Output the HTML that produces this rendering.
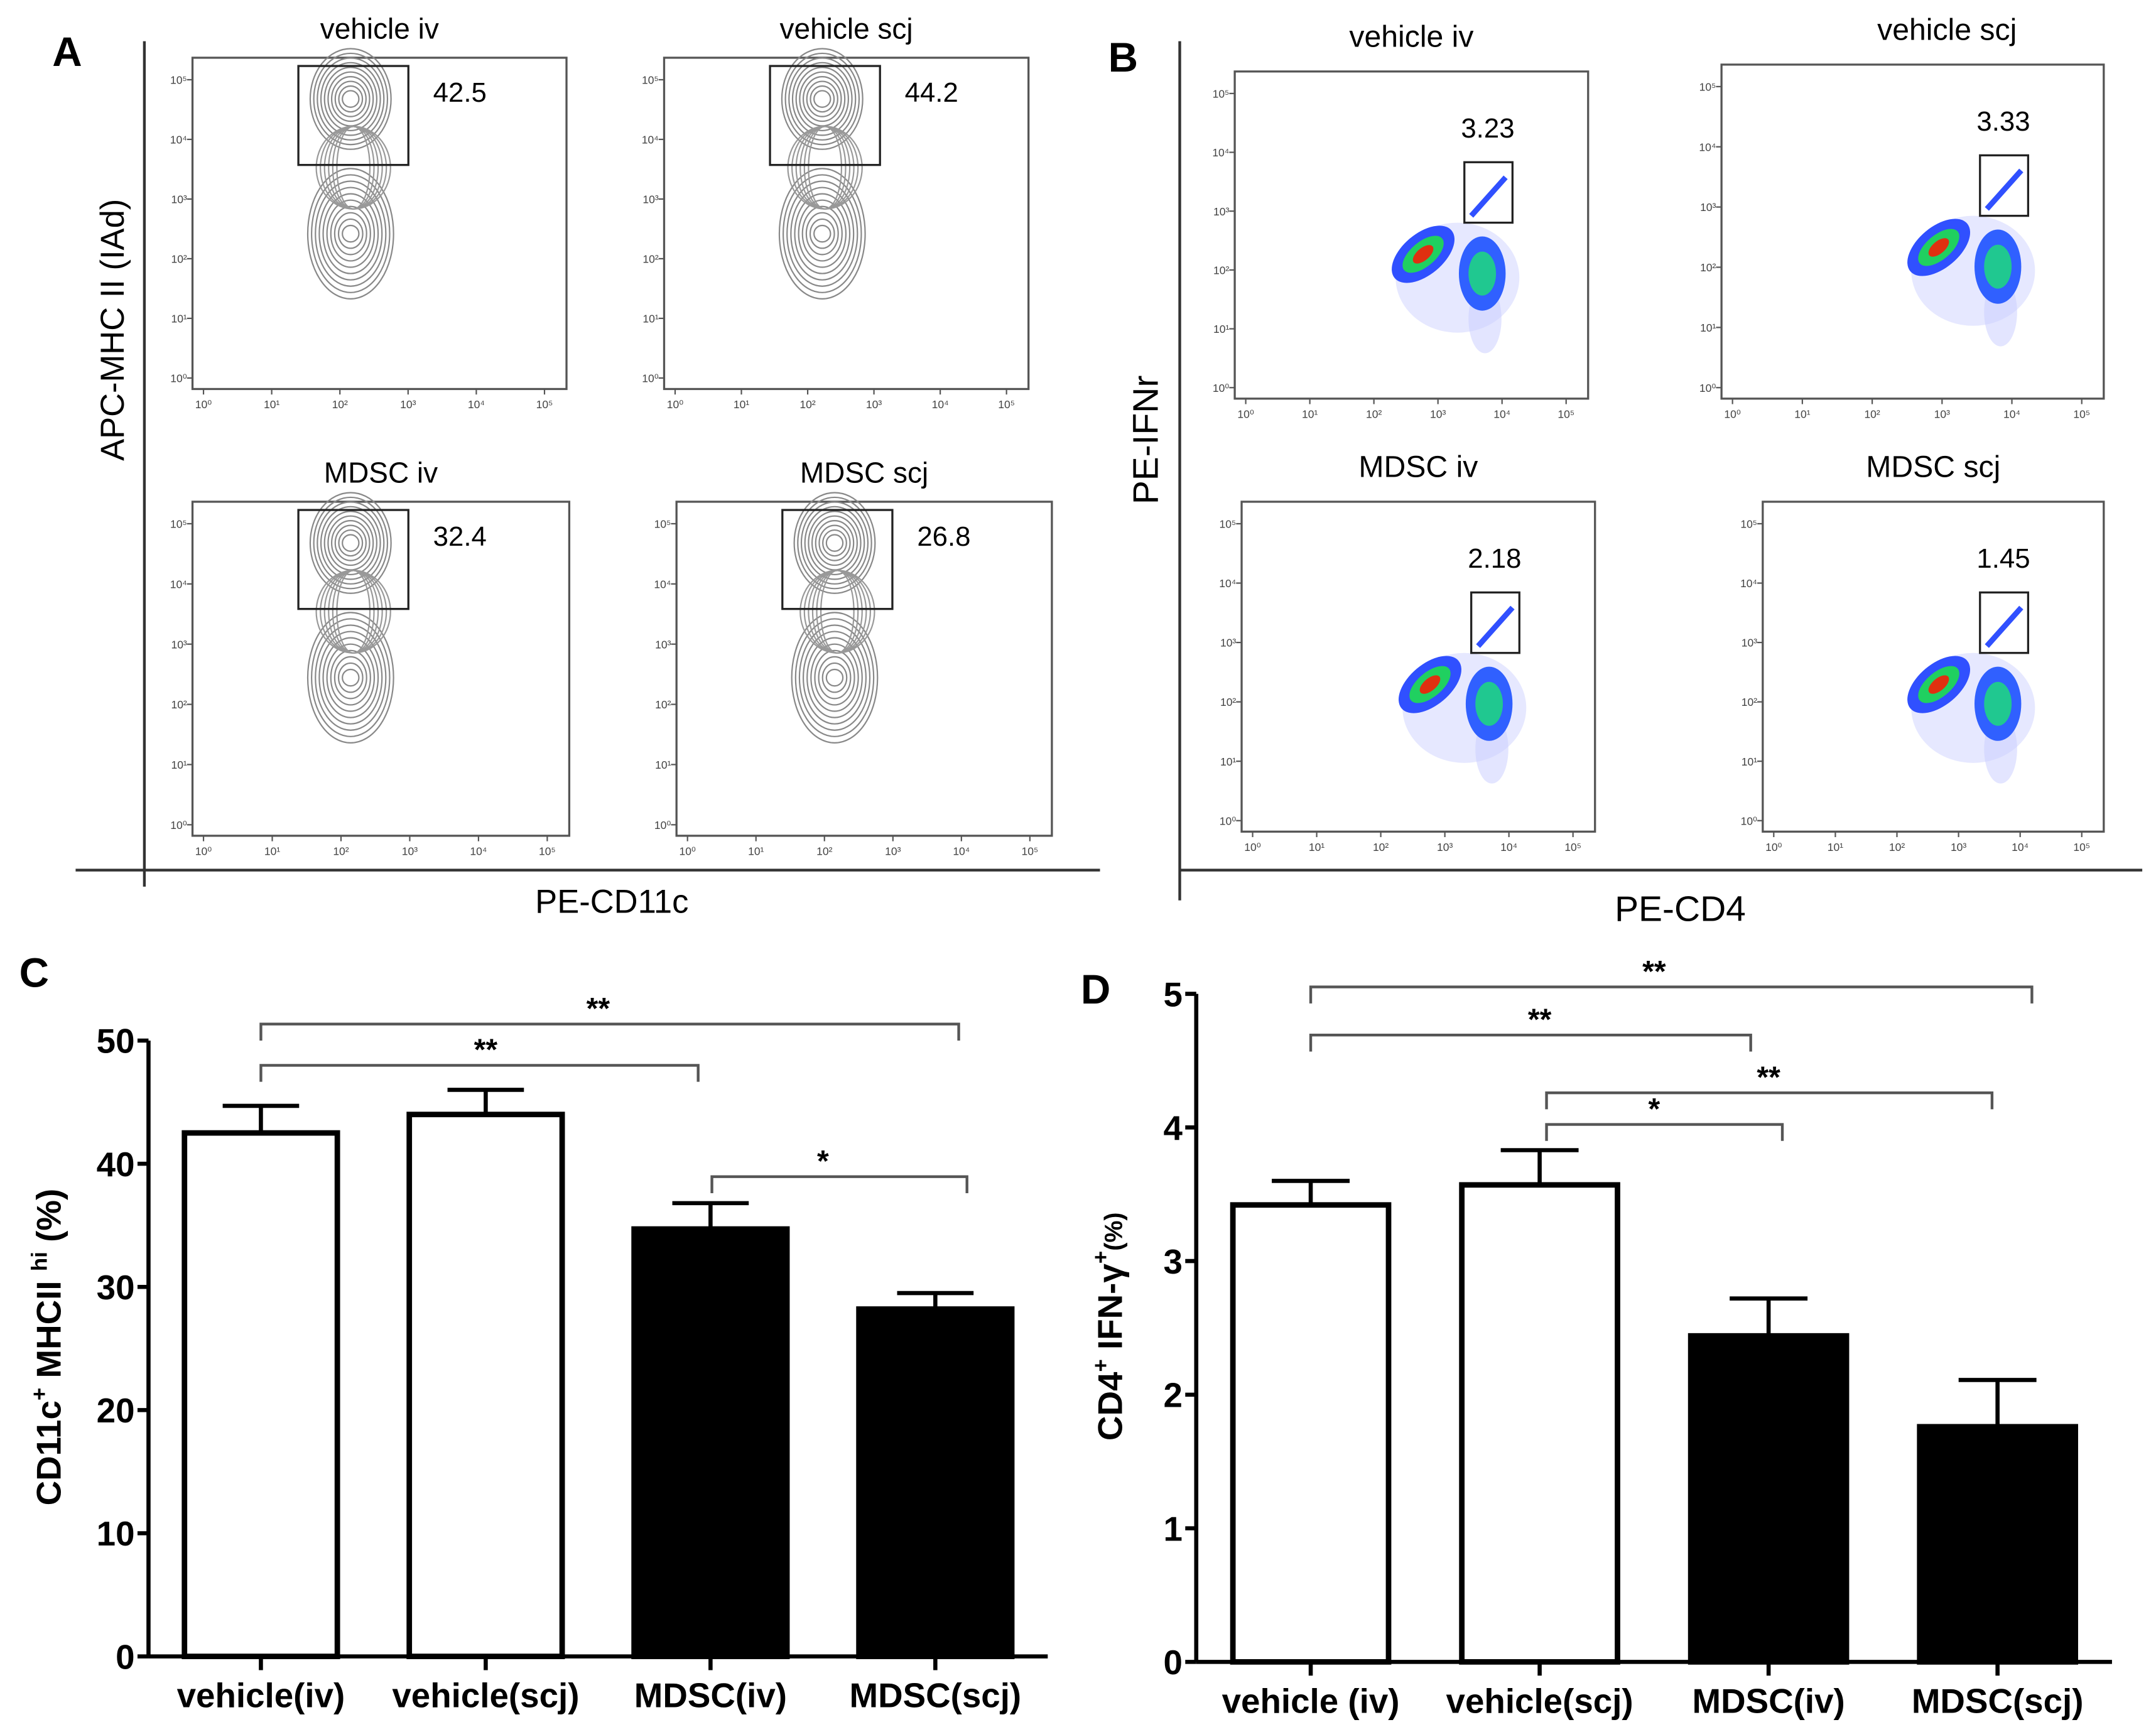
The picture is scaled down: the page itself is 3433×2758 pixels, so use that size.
<!DOCTYPE html>
<html><head><meta charset="utf-8"><style>
html,body{margin:0;padding:0;background:#fff;}
svg{display:block;font-family:"Liberation Sans",sans-serif;}
</style></head><body>
<svg id="fig" width="3433" height="2758" viewBox="0 0 1568 1260" preserveAspectRatio="none" xmlns="http://www.w3.org/2000/svg">
<rect width="1568" height="1260" fill="#fff"/>
<g id="panelA">
<text x="38" y="48" font-size="30" font-weight="bold">A</text>
<line x1="105" y1="30" x2="105" y2="645" stroke="#333" stroke-width="2"/>
<line x1="55" y1="633" x2="800" y2="633" stroke="#333" stroke-width="2"/>
<text x="445" y="664" font-size="24" text-anchor="middle">PE-CD11c</text>
<text transform="translate(90,240) rotate(-90)" font-size="24" text-anchor="middle">APC-MHC II (IAd)</text>
</g>
<g id="panelB">
<text x="806" y="52" font-size="30" font-weight="bold">B</text>
<line x1="858" y1="30" x2="858" y2="655" stroke="#333" stroke-width="2"/>
<line x1="858" y1="633" x2="1558" y2="633" stroke="#333" stroke-width="2"/>
<text x="1222" y="670" font-size="26" text-anchor="middle">PE-CD4</text>
<text transform="translate(842,320) rotate(-90)" font-size="26" text-anchor="middle">PE-IFNr</text>
</g>
<g id="panelC">
<text x="14" y="718" font-size="30" font-weight="bold">C</text>
<text transform="translate(44,980) rotate(-90)" font-size="25" font-weight="bold" text-anchor="middle">CD11c<tspan dy="-10" font-size="16">+</tspan><tspan dy="10"> MHCII </tspan><tspan dy="-10" font-size="16">hi</tspan><tspan dy="10"> (%)</tspan></text>
</g>
<g id="panelD">
<text x="786" y="730" font-size="30" font-weight="bold">D</text>
<text transform="translate(816,965) rotate(-90)" font-size="25" font-weight="bold" text-anchor="middle">CD4<tspan dy="-10" font-size="16">+</tspan><tspan dy="10"> IFN-γ</tspan><tspan dy="-10" font-size="16">+</tspan><tspan dy="10" font-size="18">(%)</tspan></text>
</g>
</svg>
<script>
// ---- Chart C data ----
const catsC = ["vehicle(iv)","vehicle(scj)","MDSC(iv)","MDSC(scj)"];
const valsC = [42.5, 44.0, 34.7, 28.2];
const errC = [2.2, 2.0, 2.1, 1.3];
const ticksC = [0,10,20,30,40,50];
const fillsC = ["#fff","#fff","#000","#000"];
// ---- Chart D data ----
const catsD = ["vehicle (iv)","vehicle(scj)","MDSC(iv)","MDSC(scj)"];
const valsD = [3.42, 3.57, 2.44, 1.76];
const errD = [0.18, 0.26, 0.28, 0.35];
const ticksD = [0,1,2,3,4,5];
const fillsD = ["#fff","#fff","#000","#000"];
// ---- Flow data ----
const flowTitlesA = ["vehicle iv","vehicle scj","MDSC iv","MDSC scj"];
const flowValsA = ["42.5","44.2","32.4","26.8"];
const flowTitlesB = ["vehicle iv","vehicle scj","MDSC iv","MDSC scj"];
const flowValsB = ["3.23","3.33","2.18","1.45"];

const NS="http://www.w3.org/2000/svg";
function mk(tag,attrs,parent,text){const e=document.createElementNS(NS,tag);for(const k in attrs)e.setAttribute(k,attrs[k]);if(text!==undefined)e.textContent=text;parent.appendChild(e);return e;}

function barChart(g,cfg){
  const y=v=>cfg.y0-(v-cfg.min)/(cfg.max-cfg.min)*(cfg.y0-cfg.y1);
  const n=cfg.cats.length, step=(cfg.xEnd-cfg.x0)/n;
  const xc=i=>cfg.x0+step*(i+0.5);
  const ax=mk('line',{x1:cfg.x0,y1:y(cfg.max),x2:cfg.x0,y2:cfg.y0,stroke:'#000','stroke-width':3},g);
  
  
  const bx=mk('line',{x1:cfg.x0,y1:cfg.y0,x2:cfg.xEnd,y2:cfg.y0,stroke:'#000','stroke-width':3},g);
  
  
  cfg.ticks.forEach(t=>{
    const tl=mk('line',{x1:cfg.x0-8,y1:y(t),x2:cfg.x0,y2:y(t),stroke:'#000','stroke-width':3},g);
    
    
    const tx=mk('text',{x:cfg.x0-10,y:y(t)+9,'font-size':25,'font-weight':'bold','text-anchor':'end'},g,String(t));
    
    
  });
  cfg.cats.forEach((c,i)=>{
    const cx=xc(i), w=step*0.68, top=y(cfg.vals[i]), et=y(cfg.vals[i]+cfg.err[i]);
    const eb=mk('line',{x1:cx,y1:top,x2:cx,y2:et,stroke:'#000','stroke-width':3},g);
    
    
    const ec=mk('line',{x1:cx-w*0.25,y1:et,x2:cx+w*0.25,y2:et,stroke:'#000','stroke-width':3},g);
    
    
    const r=mk('rect',{x:cx-w/2,y:top,width:w,height:cfg.y0-top,fill:cfg.fills[i],stroke:'#000','stroke-width':4},g);
    
    
    const xt=mk('line',{x1:cx,y1:cfg.y0,x2:cx,y2:cfg.y0+10,stroke:'#000','stroke-width':3},g);
    
    
    const lb=mk('text',{x:cx,y:cfg.y0+37,'font-size':25,'font-weight':'bold','text-anchor':'middle'},g,c);
    
    
  });
  cfg.brackets.forEach(b=>{
    const p=mk('path',{d:`M${xc(b[0])+b[4]},${b[2]+12} V${b[2]} H${xc(b[1])+b[5]} V${b[2]+12}`,fill:'none',stroke:'#555','stroke-width':2},g);
    
    
    const s=mk('text',{x:(xc(b[0])+xc(b[1]))/2,y:b[2]-4,'font-size':22,'font-weight':'bold','text-anchor':'middle'},g,b[3]);
    
    
  });
}
barChart(document.getElementById('panelC'),{x0:108,xEnd:762,y0:1205,y1:757,min:0,max:50,cats:catsC,vals:valsC,err:errC,ticks:ticksC,fills:fillsC,
  brackets:[[0,3,745,'**',0,17],[0,2,775,'**',0,-9],[2,3,856,'*',1,23]]});
barChart(document.getElementById('panelD'),{x0:870,xEnd:1536,y0:1209,y1:723,min:0,max:5,cats:catsD,vals:valsD,err:errD,ticks:ticksD,fills:fillsD,
  brackets:[[0,3,718,'**',0,25],[0,2,753,'**',0,-13],[1,3,795,'**',5,-4],[1,2,818,'*',5,10]]});

function frame(g,x1,y1,x2,y2){
  const r=mk('rect',{x:x1,y:y1,width:x2-x1,height:y2-y1,fill:'none',stroke:'#555','stroke-width':1.5},g);
  
  
  for(let k=0;k<=5;k++){
    const yy=y2-8-(y2-y1-24)*k/5, xx=x1+8+(x2-x1-24)*k/5;
    const a=mk('text',{x:x1-4,y:yy+3,'font-size':8,'text-anchor':'end',fill:'#444'},g,'10'+['⁰','¹','²','³','⁴','⁵'][k]);
    
    
    const b=mk('text',{x:xx,y:y2+14,'font-size':8,'text-anchor':'middle',fill:'#444'},g,'10'+['⁰','¹','²','³','⁴','⁵'][k]);
    
    
    mk('line',{x1:x1-4,y1:yy,x2:x1,y2:yy,stroke:'#555'},g);
    mk('line',{x1:xx,y1:y2,x2:xx,y2:y2+4,stroke:'#555'},g);
  }
}
const gA=document.getElementById('panelA');
const boxesA=[[140,42,412,283],[483,42,748,283],[140,365,414,608],[492,365,765,608]];
boxesA.forEach((b,i)=>{
  const g=mk('g',{},gA);
  
  
  frame(g,b[0],b[1],b[2],b[3]);
  const t=mk('text',{x:(b[0]+b[2])/2,y:b[1]-14,'font-size':21,'text-anchor':'middle'},g,flowTitlesA[i]);
  
  
  const cx=b[0]+115;
  for(let k=0;k<10;k++){
    mk('ellipse',{cx:cx,cy:b[1]+30,rx:6+k*2.6,ry:6+k*3.4,fill:'none',stroke:'#888','stroke-width':1},g);
    mk('ellipse',{cx:cx,cy:b[1]+128,rx:6+k*2.8,ry:6+k*4.6,fill:'none',stroke:'#888','stroke-width':1},g);
  }
  for(let k=0;k<6;k++){
    mk('ellipse',{cx:cx+2,cy:b[1]+80,rx:12+k*3,ry:30,fill:'none',stroke:'#999','stroke-width':1},g);
  }
  const gate=mk('rect',{x:b[0]+77,y:b[1]+6,width:80,height:72,fill:'none',stroke:'#222','stroke-width':1.5},g);
  
  
  const v=mk('text',{x:b[0]+175,y:b[1]+32,'font-size':20},g,flowValsA[i]);
  
  
});
const gB=document.getElementById('panelB');
const boxesB=[[898,52,1155,290],[1252,47,1530,290],[903,365,1160,605],[1282,365,1530,605]];
boxesB.forEach((b,i)=>{
  const g=mk('g',{},gB);
  
  
  frame(g,b[0],b[1],b[2],b[3]);
  const t=mk('text',{x:(b[0]+b[2])/2+(i==1?25:0),y:b[1]-18,'font-size':22,'text-anchor':'middle'},g,flowTitlesB[i]);
  
  
  const ox=b[2]-120, oy=b[1]+125;
  mk('ellipse',{cx:ox+25,cy:oy+25,rx:45,ry:40,fill:'#c8ccff',opacity:0.45},g);
  mk('ellipse',{cx:ox+45,cy:oy+55,rx:12,ry:25,fill:'#c8ccff',opacity:0.5},g);
  mk('ellipse',{cx:ox,cy:oy+8,rx:27,ry:15,fill:'#3050ff',transform:`rotate(-40 ${ox} ${oy+8})`},g);
  mk('ellipse',{cx:ox,cy:oy+8,rx:18,ry:9,fill:'#20d060',transform:`rotate(-40 ${ox} ${oy+8})`},g);
  mk('ellipse',{cx:ox,cy:oy+8,rx:9,ry:4.5,fill:'#e03010',transform:`rotate(-40 ${ox} ${oy+8})`},g);
  mk('ellipse',{cx:ox+43,cy:oy+22,rx:17,ry:27,fill:'#3060ff'},g);
  mk('ellipse',{cx:ox+43,cy:oy+22,rx:10,ry:16,fill:'#20c890'},g);
  mk('line',{x1:ox+35,y1:oy-20,x2:ox+60,y2:oy-48,stroke:'#3050ff','stroke-width':4},g);
  const gate=mk('rect',{x:ox+30,y:oy-59,width:35,height:44,fill:'none',stroke:'#222','stroke-width':1.5},g);
  
  
  const v=mk('text',{x:ox+47,y:oy-77,'font-size':20,'text-anchor':'middle'},g,flowValsB[i]);
  
  
});
</script>
</body></html>
